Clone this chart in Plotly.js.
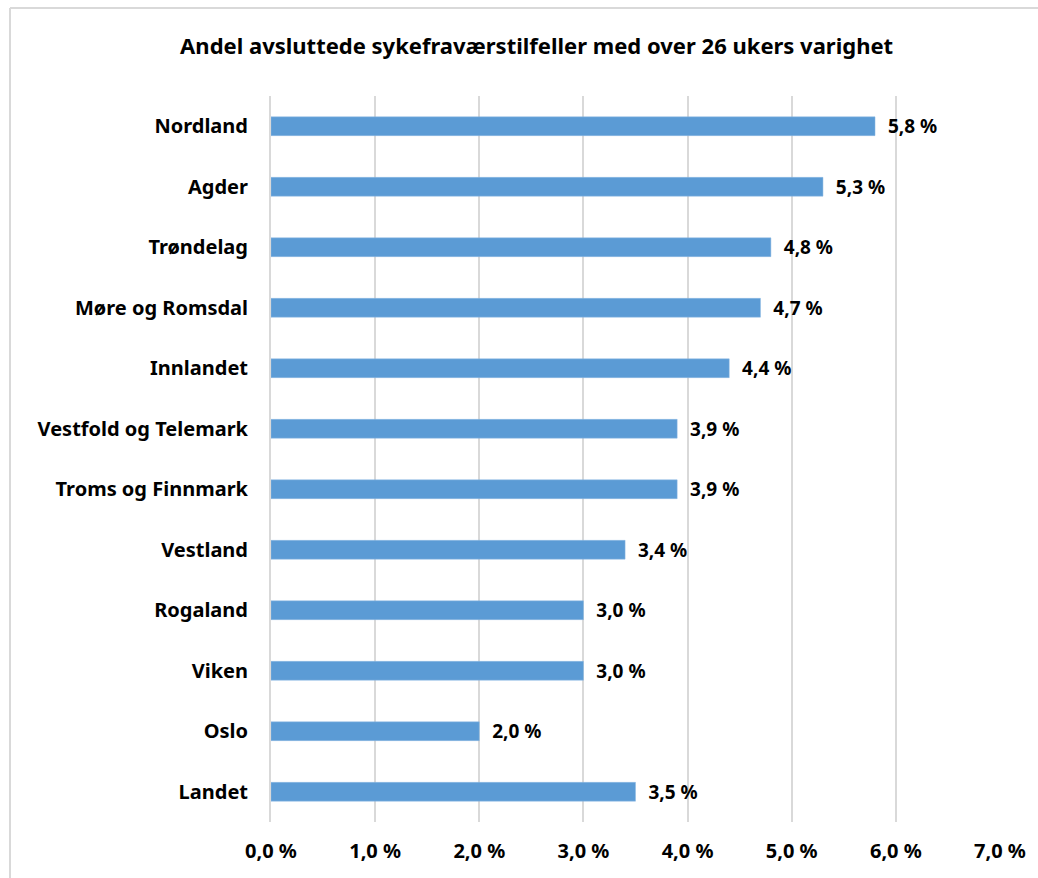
<!DOCTYPE html>
<html>
<head>
<meta charset="utf-8">
<script src="https://cdn.plot.ly/plotly-3.0.1.min.js"></script>
<style>
html,body{margin:0;padding:0;background:#fff;}
#chart{width:1038px;height:878px;}
</style>
</head>
<body>
<div id="chart"></div>
<script>
const categories = ["Nordland","Agder","Trøndelag","Møre og Romsdal","Innlandet","Vestfold og Telemark","Troms og Finnmark","Vestland","Rogaland","Viken","Oslo","Landet"];
const values = [5.8,5.3,4.8,4.7,4.4,3.9,3.9,3.4,3.0,3.0,2.0,3.5];
const tickValues = [0,1,2,3,4,5,6,7];
const tickLabels = ["0,0 %","1,0 %","2,0 %","3,0 %","4,0 %","5,0 %","6,0 %","7,0 %"];
const titleText = "Andel avsluttede sykefraværstilfeller med over 26 ukers varighet";

const fontFam = "'Noto Sans', 'Open Sans', sans-serif";
const labels = values.map(v => '\u00a0\u00a0' + v.toFixed(1).replace('.', ',') + ' %');

const trace = {
  type: 'bar',
  orientation: 'h',
  x: values,
  y: categories,
  width: 0.31,
  marker: {color: '#5B9BD5', line: {color: '#8DB9E3', width: 0.5}},
  text: labels,
  textposition: 'outside',
  constraintext: 'none',
  cliponaxis: false,
  textfont: {family: fontFam, size: 19, color: '#000', weight: 'bold'},
  hoverinfo: 'none'
};

const layout = {
  width: 1038,
  height: 878,
  margin: {l: 271, r: 38, t: 96, b: 56},
  paper_bgcolor: '#fff',
  plot_bgcolor: '#fff',
  showlegend: false,
  title: {
    text: titleText,
    font: {family: fontFam, size: 22, color: '#000', weight: 'bold'},
    x: 0.517, xanchor: 'center',
    y: 0.947, yanchor: 'middle'
  },
  xaxis: {
    range: [0, 7],
    tickvals: tickValues,
    ticktext: tickLabels,
    showgrid: true,
    gridcolor: '#d9d9d9',
    gridwidth: 2,
    zeroline: false,
    showline: false,
    ticks: '',
    ticklabelstandoff: 15,
    tickfont: {family: fontFam, size: 20, color: '#000', weight: 'bold'},
    fixedrange: true
  },
  yaxis: {
    categoryorder: 'array',
    categoryarray: categories.slice().reverse(),
    autorange: false,
    range: [-0.5, categories.length - 0.5],
    showgrid: false,
    zeroline: false,
    showline: true,
    linecolor: '#d9d9d9',
    linewidth: 2,
    ticks: '',
    ticklabelstandoff: 17,
    tickfont: {family: fontFam, size: 20, color: '#000', weight: 'bold'},
    fixedrange: true
  },
  shapes: [
    {type: 'line', xref: 'paper', yref: 'paper', x0: (10-271)/729, x1: 1.06, y0: 1 + (96-8)/726, y1: 1 + (96-8)/726, line: {color: '#d9d9d9', width: 2}},
    {type: 'line', xref: 'paper', yref: 'paper', x0: (10-271)/729, x1: (10-271)/729, y0: -0.1, y1: 1 + (96-8)/726, line: {color: '#d9d9d9', width: 2}}
  ]
};

Plotly.newPlot('chart', [trace], layout, {displayModeBar: false, staticPlot: true});
</script>
</body>
</html>
